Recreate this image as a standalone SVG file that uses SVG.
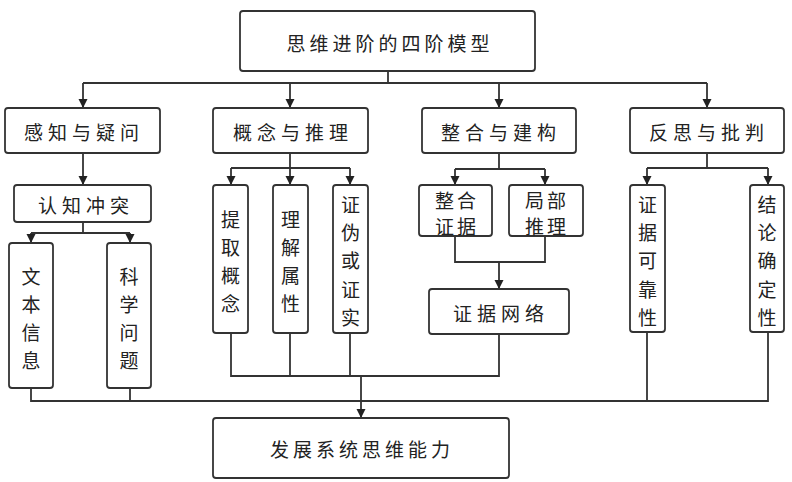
<svg xmlns="http://www.w3.org/2000/svg" width="792" height="482" viewBox="0 0 792 482">
<style>
rect.n{fill:#fff;stroke:#333;stroke-width:1.8}
text{font-family:"Noto Sans CJK SC","Noto Sans",sans-serif;fill:#222;font-size:19px;dominant-baseline:central}
text.h{text-anchor:middle;letter-spacing:4px}
text.v{text-anchor:middle}
.c path{fill:none;stroke:#333;stroke-width:1.8}
.c path.a{marker-end:url(#ar)}
</style>
<defs>
<marker id="ar" markerUnits="userSpaceOnUse" markerWidth="10" markerHeight="10" refX="9" refY="5" orient="auto">
<path d="M0,0.5 L9,5 L0,9.5 z" fill="#222"/>
</marker>
</defs>
<g class="c" id="connectors">
<path d="M388,71 V83 M83,83 H707"/>
<path class="a" d="M83,83 V108"/>
<path class="a" d="M290,83 V108"/>
<path class="a" d="M499,83 V108"/>
<path class="a" d="M707,83 V108"/>
<path class="a" d="M83,153 V185"/>
<path d="M83,222 V233 M31,233 H130"/>
<path class="a" d="M31,233 V243"/>
<path class="a" d="M130,233 V243"/>
<path d="M290,153 V168 M231,168 H350"/>
<path class="a" d="M231,168 V185"/>
<path class="a" d="M290,168 V185"/>
<path class="a" d="M350,168 V185"/>
<path d="M499,153 V169 M455,169 H545"/>
<path class="a" d="M455,169 V185"/>
<path class="a" d="M545,169 V185"/>
<path d="M455,236 V262 H545 V236"/>
<path class="a" d="M499,262 V289"/>
<path d="M707,153 V168 M647,168 H768"/>
<path class="a" d="M647,168 V185"/>
<path class="a" d="M768,168 V185"/>
<path d="M31,388 V401 H768 V332 M130,388 V401 M647,332 V401"/>
<path d="M231,333 V376 H499 V334 M290,333 V376 M350,333 V376"/>
<path class="a" d="M361,376 V418"/>
</g>
<g id="top"><rect class="n" x="240" y="11" width="295" height="60" rx="3"/><text class="h" x="390" y="42">思维进阶的四阶模型</text></g>
<g id="gz"><rect class="n" x="5" y="108" width="155" height="45" rx="3"/><text class="h" x="84" y="131" style="letter-spacing:5px">感知与疑问</text></g>
<g id="gn"><rect class="n" x="213" y="108" width="155" height="45" rx="3"/><text class="h" x="293" y="131" style="letter-spacing:5px">概念与推理</text></g>
<g id="zh"><rect class="n" x="422" y="108" width="154" height="45" rx="3"/><text class="h" x="501" y="131" style="letter-spacing:5px">整合与建构</text></g>
<g id="fs"><rect class="n" x="630" y="108" width="154" height="45" rx="3"/><text class="h" x="709" y="131" style="letter-spacing:5px">反思与批判</text></g>
<g id="rz"><rect class="n" x="14" y="185" width="137" height="37" rx="3"/><text class="h" x="86" y="204" style="letter-spacing:5px">认知冲突</text></g>
<g id="wb"><rect class="n" x="9" y="243" width="44" height="145" rx="3"/><text class="v"><tspan x="31" y="275">文</tspan><tspan x="31" y="303">本</tspan><tspan x="31" y="331">信</tspan><tspan x="31" y="359">息</tspan></text></g>
<g id="kx"><rect class="n" x="107" y="243" width="44" height="145" rx="3"/><text class="v"><tspan x="129" y="275">科</tspan><tspan x="129" y="303">学</tspan><tspan x="129" y="331">问</tspan><tspan x="129" y="359">题</tspan></text></g>
<g id="tq"><rect class="n" x="213" y="185" width="35" height="148" rx="3"/><text class="v"><tspan x="230.5" y="218">提</tspan><tspan x="230.5" y="246">取</tspan><tspan x="230.5" y="274">概</tspan><tspan x="230.5" y="302">念</tspan></text></g>
<g id="lj"><rect class="n" x="273" y="185" width="35" height="148" rx="3"/><text class="v"><tspan x="290.5" y="218">理</tspan><tspan x="290.5" y="246">解</tspan><tspan x="290.5" y="274">属</tspan><tspan x="290.5" y="302">性</tspan></text></g>
<g id="zw"><rect class="n" x="333" y="185" width="35" height="148" rx="3"/><text class="v"><tspan x="350.5" y="203">证</tspan><tspan x="350.5" y="231">伪</tspan><tspan x="350.5" y="259">或</tspan><tspan x="350.5" y="288">证</tspan><tspan x="350.5" y="316">实</tspan></text></g>
<g id="zhzj"><rect class="n" x="419" y="185" width="73" height="51" rx="3"/><text class="h" x="457" y="199" style="letter-spacing:3px">整合</text><text class="h" x="457" y="225" style="letter-spacing:3px">证据</text></g>
<g id="jb"><rect class="n" x="509" y="185" width="74" height="51" rx="3"/><text class="h" x="547" y="199" style="letter-spacing:3px">局部</text><text class="h" x="547" y="225" style="letter-spacing:3px">推理</text></g>
<g id="zjwl"><rect class="n" x="429" y="289" width="140" height="45" rx="3"/><text class="h" x="501" y="312" style="letter-spacing:5px">证据网络</text></g>
<g id="kk"><rect class="n" x="630" y="185" width="35" height="147" rx="3"/><text class="v"><tspan x="647.5" y="203">证</tspan><tspan x="647.5" y="231">据</tspan><tspan x="647.5" y="259">可</tspan><tspan x="647.5" y="288">靠</tspan><tspan x="647.5" y="316">性</tspan></text></g>
<g id="qd"><rect class="n" x="750" y="185" width="34" height="147" rx="3"/><text class="v"><tspan x="767" y="203">结</tspan><tspan x="767" y="231">论</tspan><tspan x="767" y="259">确</tspan><tspan x="767" y="288">定</tspan><tspan x="767" y="316">性</tspan></text></g>
<g id="bottom"><rect class="n" x="213" y="418" width="296" height="60" rx="3"/><text class="h" x="362" y="448">发展系统思维能力</text></g>
</svg>
